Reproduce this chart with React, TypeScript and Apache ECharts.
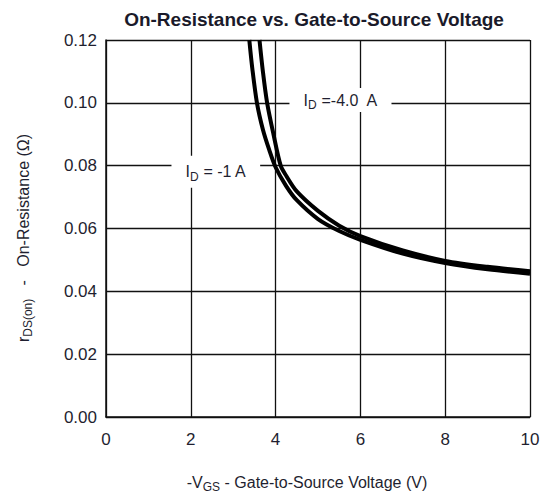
import React, { useEffect, useRef } from "react";
import * as echarts from "echarts";

const xTicks = [0, 2, 4, 6, 8, 10];
const yTicks = [0, 0.02, 0.04, 0.06, 0.08, 0.1, 0.12];

// I_D = -1 A curve
const vgsA = [3.38, 3.45, 3.56, 3.7, 3.85, 4.0, 4.25, 4.5, 5, 5.5, 6, 7, 8, 9, 10];
const rA = [0.12, 0.111, 0.1, 0.0915, 0.085, 0.0795, 0.0735, 0.069, 0.063, 0.0592, 0.0564, 0.052, 0.049, 0.047, 0.0456];
// I_D = -4.0 A curve
const vgsB = [3.62, 3.7, 3.8, 3.95, 4.12, 4.25, 4.5, 5, 5.5, 6, 7, 8, 9, 10];
const rB = [0.12, 0.11, 0.1, 0.09, 0.08, 0.0768, 0.0718, 0.0656, 0.0609, 0.0576, 0.053, 0.0497, 0.0478, 0.0464];

// annotation anchors (data coordinates)
const labelA = [2.59, 0.0781];
const labelB = [5.53, 0.1009];

const FONT = "'Liberation Sans', Arial, sans-serif";
const TXT = "#1f1f30";

export default function App() {
  const ref = useRef<HTMLDivElement>(null);
  useEffect(() => {
    if (!ref.current) return;
    const chart = echarts.init(ref.current, null, { renderer: "svg" });
    const richLbl = {
      a: { fontSize: 16, fontFamily: FONT, color: TXT, lineHeight: 22, textBorderWidth: 0 },
      sub: { fontSize: 12, fontFamily: FONT, color: TXT, lineHeight: 22, verticalAlign: "bottom" as const, padding: [8, 0, 0, 0], textBorderWidth: 0 },
    };
    const lblCommon = {
      show: true,
      position: "inside",
      color: TXT,
      opacity: 1,
      textBorderWidth: 0,
      backgroundColor: "#fff",
      rich: richLbl,
    };
    chart.setOption({
      animation: false,
      backgroundColor: "#fff",
      textStyle: { fontFamily: FONT },
      grid: { left: 106, top: 40, right: 13, bottom: 81, containLabel: false },
      xAxis: {
        type: "value",
        min: xTicks[0],
        max: xTicks[xTicks.length - 1],
        interval: 2,
        axisLine: { show: true, lineStyle: { color: "#111", width: 1.5 } },
        axisTick: { show: false },
        axisLabel: { color: TXT, fontSize: 17, margin: 14, fontFamily: FONT },
        splitLine: { show: true, lineStyle: { color: "#111", width: 1.3 } },
      },
      yAxis: {
        type: "value",
        min: yTicks[0],
        max: yTicks[yTicks.length - 1],
        interval: 0.02,
        axisLine: { show: true, lineStyle: { color: "#111", width: 1.5 } },
        axisTick: { show: false },
        axisLabel: { color: TXT, fontSize: 17, margin: 9, fontFamily: FONT, formatter: (v: number) => v.toFixed(2) },
        splitLine: { show: true, lineStyle: { color: "#111", width: 1.3 } },
      },
      graphic: [
        {
          type: "text",
          x: 314,
          y: 19,
          style: {
            text: "On-Resistance vs. Gate-to-Source Voltage",
            font: `bold 19px ${FONT}`,
            fill: "#1a1a2a",
            align: "center",
            verticalAlign: "middle",
          },
        },
        {
          type: "text",
          x: 307,
          y: 482,
          style: {
            text: "{a|-V}{s|GS}{a| - Gate-to-Source Voltage (V)}",
            align: "center",
            verticalAlign: "middle",
            rich: {
              a: { fontSize: 16, fontFamily: FONT, fill: TXT, lineHeight: 22 },
              s: { fontSize: 12, fontFamily: FONT, fill: TXT, lineHeight: 22, verticalAlign: "bottom", padding: [8, 0, 0, 0] },
            },
          },
        },
        {
          type: "text",
          x: 23,
          y: 238,
          rotation: Math.PI / 2,
          style: {
            text: "{a|r}{s|DS(on)}{a|   -   On-Resistance (Ω)}",
            align: "center",
            verticalAlign: "middle",
            rich: {
              a: { fontSize: 16, fontFamily: FONT, fill: TXT, lineHeight: 22 },
              s: { fontSize: 12, fontFamily: FONT, fill: TXT, lineHeight: 22, verticalAlign: "bottom", padding: [8, 0, 0, 0] },
            },
          },
        },
      ],
      series: [
        {
          type: "scatter",
          data: [labelA],
          symbolSize: 1,
          itemStyle: { color: "rgba(255,255,255,0)" },
          z: 1,
          zlevel: 0,
          label: { ...lblCommon, formatter: "{a|I}{sub|D}{a| = -1 A}", padding: [5, 14, 5, 14] },
        },
        {
          type: "scatter",
          data: [labelB],
          symbolSize: 1,
          itemStyle: { color: "rgba(255,255,255,0)" },
          z: 1,
          zlevel: 0,
          label: { ...lblCommon, formatter: "{a|I}{sub|D}{a| =-4.0  A}", padding: [1, 14, 1, 14] },
        },
        {
          name: "ID=-1A",
          type: "line",
          data: vgsA.map((v, i) => [v, rA[i]]),
          smooth: 0.3,
          showSymbol: false,
          symbol: "none",
          lineStyle: { color: "#000", width: 4 },
          z: 10,
        },
        {
          name: "ID=-4A",
          type: "line",
          data: vgsB.map((v, i) => [v, rB[i]]),
          smooth: 0.3,
          showSymbol: false,
          symbol: "none",
          lineStyle: { color: "#000", width: 4 },
          z: 10,
        },
      ],
    });
    return () => chart.dispose();
  }, []);
  return <div ref={ref} style={{ position: "fixed", left: 0, top: 0, width: 543, height: 498 }} />;
}
